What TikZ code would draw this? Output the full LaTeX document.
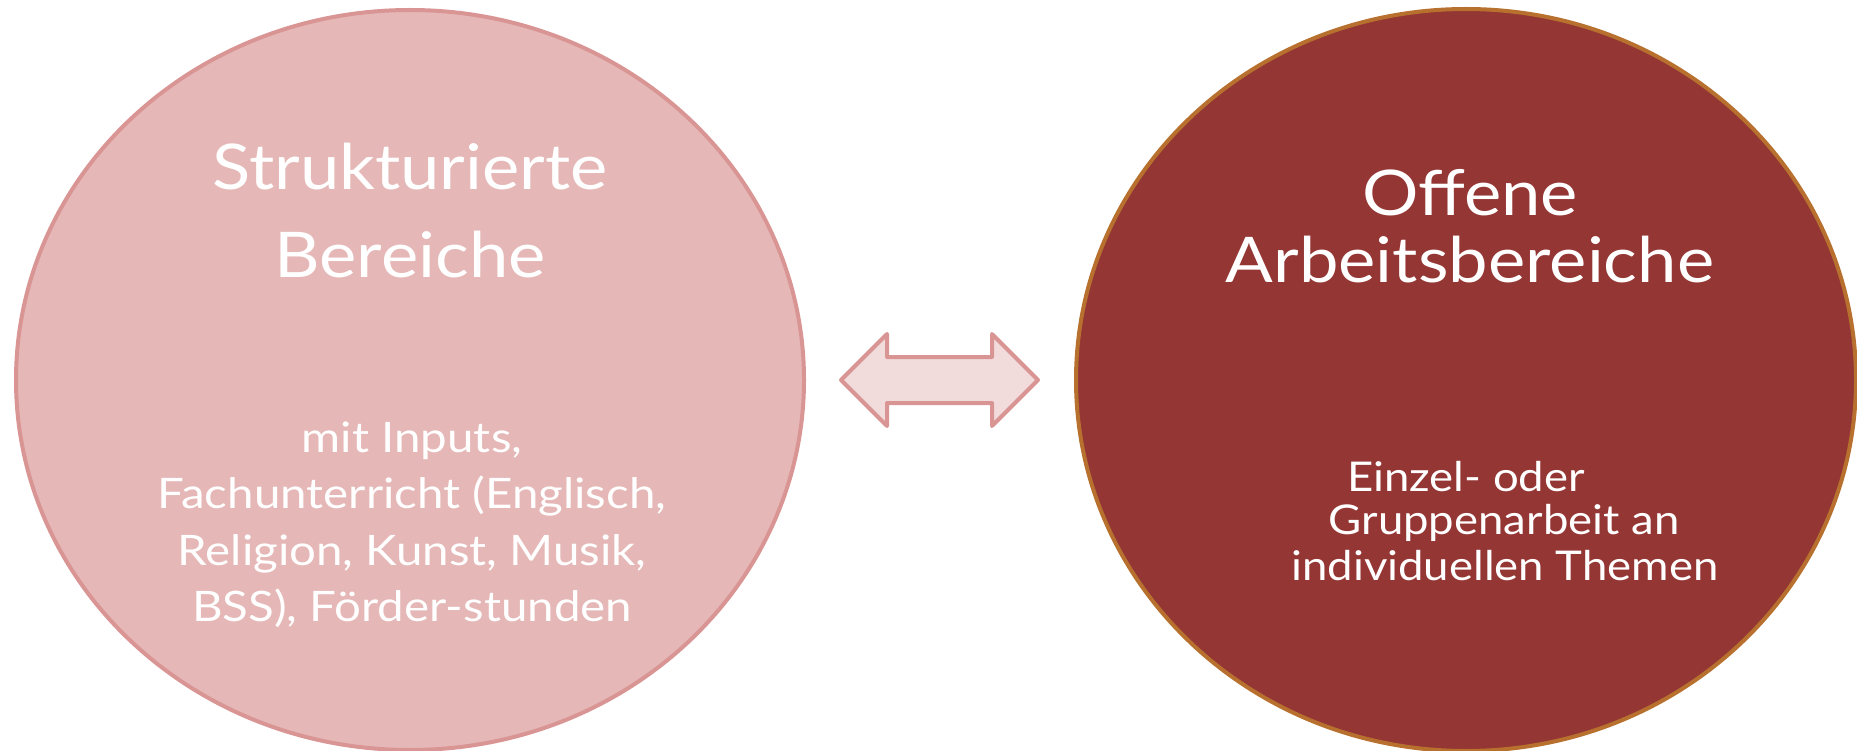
\documentclass[tikz,border=0pt]{standalone}
\usepackage{fontspec}
\setmainfont{Lato}
\newfontfamily\titlefont{Lato}[FakeStretch=1.12]
\newfontfamily\bodyfontl{Lato}[FakeStretch=1.13]
\newfontfamily\bodyfontr{Lato}[FakeStretch=1.11]
\usetikzlibrary{shapes.geometric}
\definecolor{leftfill}{HTML}{E5B8B7}
\definecolor{leftline}{HTML}{D99594}
\definecolor{rightfill}{HTML}{943634}
\definecolor{rightline}{HTML}{B8702F}
\definecolor{arrowfill}{HTML}{F2DCDB}
\tikzset{
  bubble/.style={ellipse, draw, line width=4pt, inner sep=0pt},
  titletext/.style={text=white, anchor=base, inner sep=0pt, font=\titlefont\fontsize{63}{63}\selectfont},
  smalltext/.style={text=white, anchor=base, inner sep=0pt, font=\bodyfontl\fontsize{42}{42}\selectfont},
  smalltextr/.style={text=white, anchor=base, inner sep=0pt, font=\bodyfontr\fontsize{41}{41}\selectfont},
}
\begin{document}
\begin{tikzpicture}[x=1pt,y=-1pt]
\useasboundingbox (0,0) rectangle (1857,751);
\node[bubble, fill=leftfill, draw=leftline, minimum width=788pt, minimum height=740pt] (L) at (410,380) {};
\node[bubble, fill=rightfill, draw=rightline, minimum width=780pt, minimum height=742pt] (R) at (1466,380) {};
\draw[line width=4pt, line join=round, draw=leftline, fill=arrowfill]
  (841,380) -- (887,334) -- (887,357) -- (992,357) -- (992,334) -- (1038,380)
  -- (992,426) -- (992,403) -- (887,403) -- (887,426) -- cycle;
% left texts
\node[titletext] (lt1) at (410,190) {Strukturierte};
\node[titletext] (lt2) at (410,278) {Bereiche};
\node[smalltext] (ls1) at (412,452) {mit Inputs,};
\node[smalltext] (ls2) at (412,508) {Fachunterricht (Englisch,};
\node[smalltext] (ls3) at (412,565) {Religion, Kunst, Musik,};
\node[smalltext] (ls4) at (412,621) {BSS), Förder-stunden};
% right texts
\node[titletext] (rt1) at (1470,216) {Offene};
\node[titletext] (rt2) at (1470,283) {Arbeitsbereiche};
\node[smalltextr] (rs1) at (1466,491) {Einzel- oder};
\node[smalltextr] (rs2) at (1504,534) {Gruppenarbeit an};
\node[smalltextr] (rs3) at (1505,580) {individuellen Themen};
\end{tikzpicture}
\end{document}
